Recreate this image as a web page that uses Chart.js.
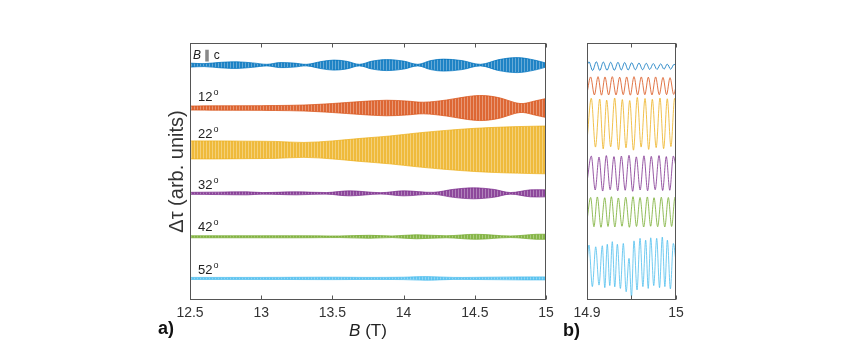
<!DOCTYPE html>
<html>
<head>
<meta charset="utf-8">
<script src="https://cdn.jsdelivr.net/npm/chart.js@4"></script>
<style>
  body { margin: 0; background: #fff; }
  #wrap { position: relative; width: 848px; height: 358px; }
  canvas { position: absolute; left: 0; top: 0; }
</style>
</head>
<body>
<div id="wrap">
  <canvas id="chartA" width="848" height="358"></canvas>
  <canvas id="chartB" width="848" height="358"></canvas>
</div>
<script>
// ---- panel a: envelope of the oscillations, B (T) vs half width (arb. units) ----
const blueB = [12.5, 12.6, 12.72, 12.83, 12.94, 13.04, 13.13, 13.23, 13.32, 13.42, 13.51, 13.6, 13.69, 13.78, 13.88, 14.0, 14.1, 14.19, 14.28, 14.41, 14.54, 14.67, 14.8, 14.92, 15];
const blueHalf = [0.78, 0.58, 1.09, 1.28, 0.86, 0.31, 0.97, 0.78, 0.31, 1.36, 1.95, 1.48, 0.31, 1.56, 2.14, 1.56, 0.31, 1.75, 2.33, 1.75, 0.31, 2.14, 2.92, 1.95, 0.78];
const redB = [12.5, 12.7, 12.9, 13.1, 13.3, 13.5, 13.7, 13.88, 14.02, 14.14, 14.3, 14.45, 14.56, 14.68, 14.78, 14.84, 14.92, 15];
const redHalf = [0.78, 0.86, 0.89, 0.97, 1.17, 1.75, 2.53, 3.03, 2.72, 2.26, 3.11, 4.47, 4.86, 3.89, 2.14, 1.75, 2.72, 3.7];
const yellowB = [12.5, 12.7, 12.9, 13.1, 13.3, 13.5, 13.7, 13.9, 14.1, 14.3, 14.5, 14.7, 14.9, 15];
const yellowHalf = [3.5, 3.5, 3.4, 3.3, 2.9, 3.5, 4.5, 5.4, 6.6, 7.6, 8.4, 8.9, 9.2, 9.3];
const purpleB = [12.5, 12.7, 12.9, 13.01, 13.25, 13.46, 13.62, 13.84, 14.0, 14.21, 14.35, 14.49, 14.63, 14.75, 14.89, 15];
const purpleHalf = [0.39, 0.47, 0.58, 0.31, 0.58, 0.31, 0.97, 0.27, 0.97, 0.39, 1.56, 2.14, 1.56, 0.31, 1.36, 1.36];
const greenB = [12.5, 12.9, 13.3, 13.55, 13.76, 13.92, 14.09, 14.3, 14.51, 14.75, 14.93, 15];
const greenHalf = [0.39, 0.39, 0.39, 0.31, 0.58, 0.31, 0.78, 0.39, 0.97, 0.31, 0.97, 0.97];
const cyanB = [12.5, 13.0, 13.5, 13.75, 14.0, 14.16, 14.35, 14.6, 14.85, 15];
const cyanHalf = [0.39, 0.39, 0.47, 0.39, 0.47, 0.7, 0.39, 0.47, 0.58, 0.58];

// offsets of each trace (arb. units)
const traceMid = [91.4, 74.7, 58.4, 41.5, 24.6, 8.4];
const traceLabels = ['B \u2225 c', '12', '22', '32', '42', '52'];

// ---- panel b: zoom 14.9 - 15 T, extrema of each trace ----
const blueZx = [14.9, 14.9022, 14.9063, 14.9105, 14.9144, 14.9183, 14.9225, 14.9266, 14.9307, 14.9348, 14.9385, 14.9423, 14.9462, 14.9502, 14.9543, 14.9584, 14.9625, 14.9666, 14.9705, 14.9745, 14.9786, 14.9828, 14.9865, 14.9902, 14.994, 14.9978, 15];
const blueZy = [91.2, 92.7, 89.3, 92.7, 89.3, 92.6, 89.4, 92.5, 89.4, 92.5, 89.5, 92.4, 89.5, 92.3, 89.6, 92.2, 89.6, 92.1, 89.7, 92.0, 89.7, 91.9, 89.8, 91.8, 89.8, 91.7, 91.2];
const redZx = [14.9, 14.9041, 14.9083, 14.9124, 14.9163, 14.9202, 14.9243, 14.9284, 14.9326, 14.9367, 14.9407, 14.9446, 14.9487, 14.9528, 14.9569, 14.961, 14.965, 14.9689, 14.973, 14.9771, 14.9812, 14.9854, 14.9894, 14.9933, 14.9974, 15];
const redZy = [80.5, 86.8, 79.8, 86.9, 79.7, 86.8, 79.8, 86.9, 79.8, 86.7, 79.9, 86.8, 79.7, 86.9, 79.8, 86.8, 79.9, 86.7, 79.8, 86.8, 79.9, 86.6, 79.9, 86.5, 80.0, 83.0];
const yellowZx = [14.9, 14.9048, 14.9095, 14.9143, 14.9182, 14.9221, 14.9266, 14.9311, 14.9354, 14.9397, 14.9438, 14.948, 14.9522, 14.9565, 14.9608, 14.9652, 14.9693, 14.9734, 14.9777, 14.982, 14.9861, 14.9902, 14.9943, 14.9985, 15];
const yellowZy = [62, 78.5, 59.5, 78.2, 58.8, 77.8, 59.6, 78.6, 58.5, 78.0, 59.2, 77.6, 58.3, 78.8, 59.5, 78.4, 58.6, 78.1, 59.3, 78.6, 58.9, 78.3, 59.7, 78.5, 76];
const purpleZx = [14.9, 14.9048, 14.9092, 14.9135, 14.9176, 14.9217, 14.926, 14.9303, 14.9345, 14.9386, 14.9429, 14.9472, 14.9513, 14.9554, 14.9597, 14.964, 14.9681, 14.9722, 14.9766, 14.9809, 14.985, 14.9891, 14.993, 14.997, 15];
const purpleZy = [46, 56.0, 42.8, 55.6, 42.4, 56.2, 42.9, 55.8, 42.5, 56.0, 42.7, 56.3, 42.3, 55.7, 42.8, 56.1, 42.5, 55.9, 42.9, 56.2, 42.6, 55.8, 42.7, 56.0, 52];
const greenZx = [14.9, 14.9041, 14.9078, 14.9116, 14.9157, 14.9199, 14.9236, 14.9274, 14.9313, 14.9352, 14.9393, 14.9435, 14.9476, 14.9517, 14.9556, 14.9596, 14.9637, 14.9678, 14.9715, 14.9753, 14.9794, 14.9835, 14.9874, 14.9914, 14.9951, 14.9989, 15];
const greenZy = [31, 39.9, 28.5, 40.1, 28.3, 39.8, 28.6, 40.2, 28.4, 39.7, 28.7, 40.0, 28.3, 40.2, 28.6, 39.9, 28.4, 40.1, 28.7, 39.8, 28.5, 40.0, 28.4, 39.9, 28.6, 40.0, 39];
const cyanZx = [14.9, 14.9022, 14.906, 14.9098, 14.9135, 14.9172, 14.92, 14.9228, 14.9256, 14.9284, 14.9312, 14.9341, 14.9375, 14.9408, 14.944, 14.9472, 14.95, 14.9528, 14.9562, 14.9596, 14.9628, 14.9659, 14.9688, 14.9716, 14.975, 14.9783, 14.9815, 14.9846, 14.9875, 14.9903, 14.9937, 14.997, 15];
const cyanZy = [14, 21.4, 5.2, 20.7, 5.8, 21.1, 4.8, 21.7, 5.6, 22.7, 5.1, 21.7, 4.5, 22.0, 3.2, 16.2, 1.3, 23.0, 3.9, 24.0, 5.2, 23.3, 4.5, 24.2, 5.6, 24.0, 4.8, 24.5, 5.2, 23.3, 4.3, 22.0, 15];

const colors = ['#0072BD', '#D95319', '#EDB120', '#7E2F8E', '#77AC30', '#4DBEEE'];
const FONT = "'Liberation Sans', Arial, Helvetica, sans-serif";
Chart.defaults.font.family = FONT;

// box round the plot area + inward tick marks
const framePlugin = {
    id: 'frame',
    afterDraw(chart) {
        const {ctx, chartArea: a, scales: {x}} = chart;
        const l = Math.round(a.left) + 0.5, r = Math.round(a.right) - 0.5;
        const t = Math.round(a.top) + 0.5, b = Math.round(a.bottom) - 0.5;
        ctx.save();
        ctx.strokeStyle = '#555';
        ctx.lineWidth = 1;
        ctx.strokeRect(l, t, r - l, b - t);
        ctx.beginPath();
        x.ticks.forEach(tk => {
            const px = Math.round(x.getPixelForValue(tk.value)) + 0.5;
            ctx.moveTo(px, b); ctx.lineTo(px, b - 4);
            ctx.moveTo(px, t); ctx.lineTo(px, t + 4);
        });
        ctx.stroke();
        ctx.restore();
    }
};

// vertical stripes, looks like the unresolved fast oscillation
function stripes(color) {
    const c = document.createElement('canvas');
    c.width = 3; c.height = 1;
    const g = c.getContext('2d');
    g.fillStyle = color;
    g.fillRect(0, 0, 3, 1);
    g.fillStyle = 'rgba(255,255,255,0.4)';
    g.fillRect(2, 0, 1, 1);
    g.fillStyle = 'rgba(255,255,255,0.12)';
    g.fillRect(0, 0, 2, 1);
    return g.createPattern(c, 'repeat');
}

function band(xs, mid, half, color) {
    const up = xs.map((b, i) => ({x: b, y: mid + half[i]}));
    const lo = xs.map((b, i) => ({x: b, y: mid - half[i]}));
    return [
        {data: up, borderColor: color + 'bb', borderWidth: 1, pointRadius: 0, tension: 0.35, fill: false},
        {data: lo, borderColor: color + 'bb', backgroundColor: stripes(color), borderWidth: 1, pointRadius: 0, tension: 0.35, fill: '-1'}
    ];
}

function wave(xs, ys, color) {
    return {
        data: xs.map((b, i) => ({x: b, y: ys[i]})),
        borderColor: color + 'cc', borderWidth: 1, pointRadius: 0,
        cubicInterpolationMode: 'monotone', fill: false
    };
}

const bandsA = [
    ...band(blueB, traceMid[0], blueHalf, colors[0]),
    ...band(redB, traceMid[1], redHalf, colors[1]),
    ...band(yellowB, traceMid[2], yellowHalf, colors[2]),
    ...band(purpleB, traceMid[3], purpleHalf, colors[3]),
    ...band(greenB, traceMid[4], greenHalf, colors[4]),
    ...band(cyanB, traceMid[5], cyanHalf, colors[5])
];

// trace labels, x title and panel letter
const labelLift = [9, 11, 15, 8, 9, 8];
const textPluginA = {
    id: 'textA',
    afterDraw(chart) {
        const {ctx, chartArea: a, scales: {x, y}} = chart;
        ctx.save();
        ctx.fillStyle = '#222';
        ctx.textBaseline = 'middle';
        traceLabels.forEach((lab, i) => {
            const py = y.getPixelForValue(traceMid[i]) - labelLift[i];
            if (i === 0) {
                let px = a.left + 3;
                ctx.font = 'italic 12px ' + FONT;
                ctx.fillText('B', px, py);
                px += ctx.measureText('B').width;
                ctx.font = '12px ' + FONT;
                ctx.fillText(lab.slice(1), px, py);
            } else {
                const px = a.left + 8;
                ctx.font = '13px ' + FONT;
                ctx.fillText(lab, px, py);
                const w = ctx.measureText(lab).width;
                ctx.font = '9px ' + FONT;
                ctx.fillText('o', px + w + 1, py - 5);
            }
        });
        // x axis title: B (T)
        const cx = (a.left + a.right) / 2;
        ctx.font = 'italic 17px ' + FONT;
        const wB = ctx.measureText('B').width;
        ctx.font = '17px ' + FONT;
        const wT = ctx.measureText(' (T)').width;
        const sx = cx - (wB + wT) / 2;
        ctx.font = 'italic 17px ' + FONT;
        ctx.fillText('B', sx, a.bottom + 31);
        ctx.font = '17px ' + FONT;
        ctx.fillText(' (T)', sx + wB, a.bottom + 31);
        ctx.font = 'bold 18px ' + FONT;
        ctx.fillStyle = '#111';
        ctx.fillText('a)', a.left - 32, a.bottom + 29);
        ctx.restore();
    }
};

const textPluginB = {
    id: 'textB',
    afterDraw(chart) {
        const {ctx, chartArea: a} = chart;
        ctx.save();
        ctx.fillStyle = '#111';
        ctx.textBaseline = 'middle';
        ctx.font = 'bold 18px ' + FONT;
        ctx.fillText('b)', a.left - 24, a.bottom + 31);
        ctx.restore();
    }
};

new Chart(document.getElementById('chartA'), {
    type: 'line',
    data: {datasets: bandsA},
    options: {
        responsive: false,
        animation: false,
        devicePixelRatio: 1,
        layout: {padding: {top: 43, right: 302, left: 0, bottom: 0}},
        plugins: {legend: {display: false}, tooltip: {enabled: false}},
        scales: {
            x: {
                type: 'linear', min: 12.5, max: 15,
                grid: {display: false, drawTicks: false}, border: {display: false},
                ticks: {
                    stepSize: 0.5, color: '#333', font: {size: 14}, padding: 5, maxRotation: 0, autoSkip: false,
                    callback: v => String(+v.toFixed(2))
                },
                afterFit: s => { s.height = 58; }
            },
            y: {
                min: 0, max: 100,
                grid: {display: false, drawTicks: false}, border: {display: false},
                ticks: {display: false},
                title: {display: true, text: '\u0394\u03c4 (arb. units)', color: '#333', font: {size: 20}, padding: {top: 165, bottom: 0}},
                afterFit: s => { s.width = 190; }
            }
        }
    },
    plugins: [framePlugin, textPluginA]
});

new Chart(document.getElementById('chartB'), {
    type: 'line',
    data: {datasets: [
        wave(blueZx, blueZy, colors[0]),
        wave(redZx, redZy, colors[1]),
        wave(yellowZx, yellowZy, colors[2]),
        wave(purpleZx, purpleZy, colors[3]),
        wave(greenZx, greenZy, colors[4]),
        wave(cyanZx, cyanZy, colors[5])
    ]},
    options: {
        responsive: false,
        animation: false,
        devicePixelRatio: 1,
        layout: {padding: {top: 43, right: 172, left: 0, bottom: 0}},
        plugins: {legend: {display: false}, tooltip: {enabled: false}},
        scales: {
            x: {
                type: 'linear', min: 14.9, max: 15,
                grid: {display: false, drawTicks: false}, border: {display: false},
                ticks: {
                    stepSize: 0.05, color: '#333', font: {size: 14}, padding: 5, maxRotation: 0, autoSkip: false,
                    callback: v => Math.abs(v - 14.95) < 1e-6 ? '' : String(+v.toFixed(2))
                },
                afterFit: s => { s.height = 58; }
            },
            y: {
                min: 0, max: 100,
                grid: {display: false, drawTicks: false}, border: {display: false},
                ticks: {display: false},
                afterFit: s => { s.width = 587; }
            }
        }
    },
    plugins: [framePlugin, textPluginB]
});
</script>
</body>
</html>
